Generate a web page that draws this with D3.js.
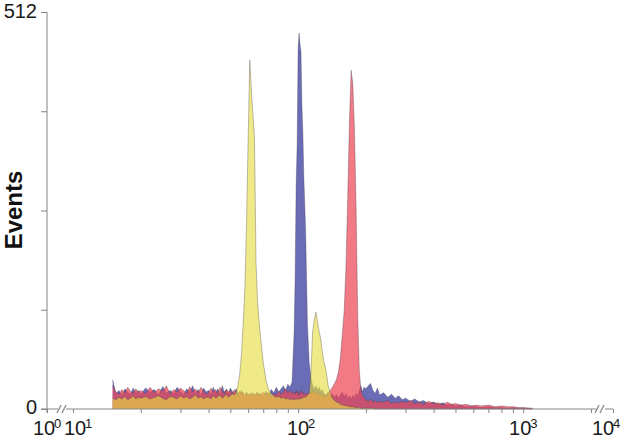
<!DOCTYPE html>
<html>
<head>
<meta charset="utf-8">
<script src="https://cdn.jsdelivr.net/npm/d3@7"></script>
<style>
  body { margin: 0; background: #fff; }
  svg { display: block; font-family: "Liberation Sans", Arial, sans-serif; }
</style>
</head>
<body>
<script>
// fluorescence channel (bin centre) shared by the three histograms
var channelBins = [
  15, 15.5, 16, 16.5, 17, 17.5, 18, 18.5, 19, 19.5,
  20, 21, 22, 23, 24, 25, 26, 27, 28, 29, 30, 31, 32, 33, 34, 35, 36, 37, 38, 39,
  40, 41, 42, 43, 44, 45, 46, 47, 48, 49, 50, 51, 52, 53, 54, 55, 56, 57, 58, 59, 60, 61, 62, 63, 64, 65, 66, 67,
  68, 70, 72, 74, 76, 78, 80, 82, 84, 86, 88, 90, 92, 94,
  96, 97, 98, 99, 100, 101, 102, 103, 104, 105, 106,
  108, 110, 112, 114, 116, 118, 120, 122, 124, 126, 128, 130,
  133, 136, 139, 142, 145, 148, 151, 154, 157, 160, 163, 166, 169, 172, 175, 178, 181, 184, 187, 190, 193, 196,
  200, 205, 210, 215, 220, 225, 230, 240, 250, 260, 270, 280, 290,
  300, 315, 330, 345, 360, 380, 400, 420, 440, 460, 480, 500, 530, 560, 590, 620, 650, 700, 750, 800, 850, 900, 950, 1000, 1100
];

// events per bin
var yellowCounts = [
  14, 12, 15, 13, 16, 12, 14, 17, 13, 15,
  14, 16, 13, 15, 17, 14, 12, 16, 15, 13, 17, 14, 16, 13, 15, 18, 14, 16, 13, 15,
  15, 13, 17, 14, 16, 18, 14, 16, 19, 15, 17, 20, 18, 22, 30, 45, 70, 110, 155, 240, 350, 450, 410, 380, 350, 190, 140, 115,
  95, 60, 37, 25, 20, 17, 15, 16, 14, 15, 13, 14, 12, 13,
  12, 13, 12, 14, 13, 12, 14, 13, 15, 14, 16,
  15, 18, 20, 45, 100, 115, 125, 112, 100, 90, 75, 62,
  50, 30, 20, 14, 11, 9, 8, 6, 5, 5, 4, 4, 3, 3, 3, 2, 2, 2, 2, 1, 1, 1,
  1, 1, 1, 1, 0, 0, 0, 0, 0, 0, 0, 0, 0,
  0, 0, 0, 0, 0, 0, 0, 0, 0, 0, 0, 0, 0, 0, 0, 0, 0, 0, 0, 0, 0, 0, 0, 0, 0
];
var blueCounts = [
  38, 20, 24, 18, 26, 22, 19, 27, 21, 24,
  19, 27, 22, 25, 18, 29, 21, 24, 20, 28, 23, 19, 26, 22, 30, 20, 25, 18, 27, 22,
  24, 19, 28, 21, 26, 18, 30, 22, 25, 20, 27, 23, 19, 26, 22, 18, 24, 20, 16, 22, 18, 20, 17, 21, 16, 19, 22, 18,
  20, 17, 23, 19, 25, 21, 28, 22, 26, 30, 24, 32, 28, 35,
  100, 170, 290, 340, 465, 485, 470, 460, 390, 355, 300,
  230, 110, 60, 40, 30, 26, 30, 24, 28, 22, 25, 20,
  18, 22, 16, 20, 15, 19, 14, 18, 22, 16, 20, 14, 17, 13, 18, 15, 20, 17, 24, 30, 22, 28,
  26, 30, 33, 24, 20, 27, 18, 21, 15, 19, 14, 17, 12,
  14, 10, 13, 9, 11, 7, 9, 6, 8, 5, 6, 4, 5, 3, 4, 3, 2, 3, 2, 2, 1, 2, 1, 1, 0
];
var redCounts = [
  30, 22, 19, 25, 21, 28, 23, 20, 26, 22,
  24, 20, 28, 21, 26, 23, 30, 19, 25, 22, 27, 24, 20, 29, 22, 26, 21, 28, 23, 19,
  21, 27, 22, 25, 20, 28, 23, 19, 26, 22, 24, 19, 25, 21, 17, 23, 19, 22, 18, 20, 16, 19, 21, 17, 20, 18, 21, 17,
  18, 22, 17, 21, 16, 20, 18, 23, 19, 22, 26, 21, 24, 20,
  22, 19, 24, 20, 23, 18, 21, 25, 20, 22, 19,
  21, 18, 23, 19, 24, 20, 22, 18, 21, 17, 20, 16,
  16, 20, 24, 28, 33, 38, 48, 65, 95, 125, 180, 270, 370, 437, 420, 360, 260, 120, 50, 25, 18, 15,
  12, 10, 13, 9, 11, 8, 10, 9, 11, 7, 9, 8, 10,
  8, 11, 7, 9, 6, 10, 7, 8, 5, 9, 6, 7, 5, 6, 4, 5, 4, 5, 3, 4, 3, 3, 2, 2, 1
];

// axis values
var yTickValues = [0, 128, 256, 384, 512];
var yLabelValues = [0, 512];
var xTickValues = [1, 10, 20, 30, 40, 50, 60, 70, 80, 90,
  100, 200, 300, 400, 500, 600, 700, 800, 900, 1000, 2000, 10000];
var xDecades = [0, 1, 2, 3, 4];

var series = [
  {id: "blue", counts: blueCounts, fill: "#6a6db6", opacity: 1},
  {id: "red", counts: redCounts, fill: "#ec4656", opacity: 0.72},
  {id: "yellow", counts: yellowCounts, fill: "#e6dc3e", opacity: 0.62}
];

//---------setup plot-----------------------//
var width = 621, height = 438;

// broken log axis: 10^0 | 10^1 ... 2x10^3 | 10^4
var x = d3.scaleLog()
    .domain([1, 10, 2000, 10000])
    .range([47, 73, 591, 613]);

var y = d3.scaleLinear()
    .domain([0, 512])
    .range([409, 12]);

var svg = d3.select("body").append("svg")
    .attr("width", width)
    .attr("height", height);

//-------------data----------//
var area = d3.area()
    .x(function(d) { return x(d[0]); })
    .y0(y(0))
    .y1(function(d) { return y(d[1]); });

var line = d3.line()
    .x(function(d) { return x(d[0]); })
    .y(function(d) { return y(d[1]); });

series.forEach(function(s) {
    var pts = channelBins.map(function(c, i) { return [c, s.counts[i]]; });
    svg.append("path")
        .attr("class", "hist " + s.id)
        .attr("d", area(pts))
        .style("fill", s.fill)
        .style("fill-opacity", s.opacity);
    svg.append("path")
        .attr("d", line(pts))
        .style("fill", "none")
        .style("stroke", "#3b3446")
        .style("stroke-opacity", 0.55)
        .style("stroke-width", 0.6);
});

//-------------axes----------//
var axisColor = "#858585";

// y-axis
var yAxis = d3.axisLeft(y)
    .tickValues(yTickValues)
    .tickSize(6)
    .tickFormat("");
var gy = svg.append("g")
    .attr("transform", "translate(47,0)")
    .call(yAxis);
gy.select(".domain").remove();
gy.selectAll("line").attr("stroke", axisColor);
svg.append("line")
    .attr("x1", 47).attr("x2", 47)
    .attr("y1", y(512)).attr("y2", y(0) + 4)
    .attr("stroke", axisColor);

svg.selectAll(".ylab")
    .data(yLabelValues)
    .enter().append("text")
    .attr("class", "ylab")
    .attr("x", 37)
    .attr("y", function(d) { return d === 512 ? y(d) + 6 : y(d) + 5; })
    .attr("text-anchor", "end")
    .style("font-size", "20px")
    .style("fill", "#1a1a1a")
    .text(function(d) { return d; });

// x-axis ticks (hanging down)
var xAxis = d3.axisBottom(x)
    .tickValues(xTickValues)
    .tickSize(4)
    .tickFormat("");
var gx = svg.append("g")
    .attr("transform", "translate(0," + y(0) + ")")
    .call(xAxis);
gx.select(".domain").remove();
gx.selectAll("line").attr("stroke", axisColor);

// x-axis line with the two breaks
var x0 = y(0);
var axisPieces = [[41, 58], [66, 596], [605, x(10000)]];
axisPieces.forEach(function(p) {
    svg.append("line")
        .attr("x1", p[0]).attr("x2", p[1])
        .attr("y1", x0).attr("y2", x0)
        .attr("stroke", axisColor);
});
[59, 64, 597, 602].forEach(function(bx) {
    svg.append("line")
        .attr("x1", bx - 2).attr("x2", bx + 2)
        .attr("y1", x0 + 4).attr("y2", x0 - 4)
        .attr("stroke", axisColor)
        .attr("stroke-width", 1.2);
});

// decade labels 10^n
var labelShift = {0: -3, 1: 2, 2: 0, 3: -3, 4: -10};
var xl = svg.selectAll(".xlab")
    .data(xDecades)
    .enter().append("g")
    .attr("class", "xlab")
    .attr("transform", function(d) {
        return "translate(" + (x(Math.pow(10, d)) + labelShift[d]) + ",0)";
    });
xl.append("text")
    .attr("x", 0)
    .attr("y", 435)
    .attr("text-anchor", "middle")
    .style("font-size", "20px")
    .style("fill", "#1a1a1a")
    .text("10");
xl.append("text")
    .attr("x", 10)
    .attr("y", 428)
    .style("font-size", "13px")
    .style("fill", "#1a1a1a")
    .text(function(d) { return d; });

// y-axis label
svg.append("text")
    .attr("transform", "translate(22,210) rotate(-90)")
    .attr("text-anchor", "middle")
    .style("font-size", "24px")
    .style("font-weight", "bold")
    .style("fill", "#111")
    .text("Events");
</script>
</body>
</html>
